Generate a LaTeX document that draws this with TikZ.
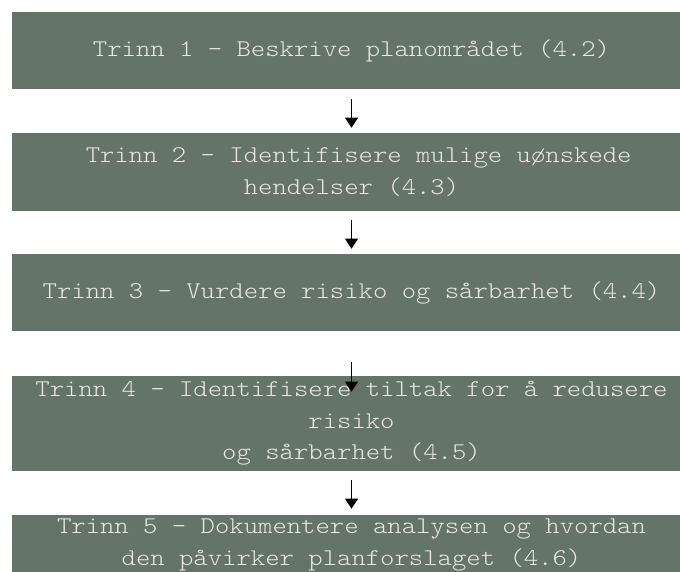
\documentclass[tikz,border=0pt]{standalone}
\usepackage{fontspec}
\newfontfamily\trinnfont[FakeStretch=1.14]{Latin Modern Mono Light}
\usetikzlibrary{arrows.meta,calc}
\definecolor{trinngreen}{RGB}{101,116,104}
\definecolor{trinntext}{RGB}{232,232,228}

\begin{document}
\begin{tikzpicture}[x=0.75pt,y=0.75pt,yscale=-1,xscale=1,
    trinnbox/.style={fill=trinngreen, text=trinntext, minimum width=510pt, inner sep=0pt, align=center, font=\trinnfont\fontsize{18}{23.6}\selectfont},
    flowarrow/.style={-{Triangle[width=9.5pt,length=7.5pt]}, line width=1.4pt, black}]

    \useasboundingbox (0,0) rectangle (680,571);

    % steps
    \node [trinnbox, minimum height=57.75pt] (trinn1) at (351.5,50.5) {Trinn 1 - Beskrive planområdet (4.2)};
    \node [trinnbox, minimum height=58.5pt] (trinn2) at (351.5,172) {~Trinn 2 - Identifisere mulige uønskede\\hendelser (4.3)};
    \node [trinnbox, minimum height=57.75pt] (trinn3) at (351.5,292.5) {Trinn 3 - Vurdere risiko og sårbarhet (4.4)};
    \node [trinnbox, minimum height=71.25pt] (trinn4) at (351.5,423.5) {Trinn 4 - Identifisere tiltak for å redusere\\risiko\\og sårbarhet (4.5)};
    \node [trinnbox, minimum height=45pt] (trinn5) at (351.5,545) {Trinn 5 - Dokumentere analysen og hvordan\\den påvirker planforslaget (4.6)};

    % arrows
    \draw [flowarrow] ($(trinn1.south)+(0,10)$) -- ($(trinn2.north)+(0,-5)$);
    \draw [flowarrow] ($(trinn2.south)+(0,9)$) -- ($(trinn3.north)+(0,-5)$);
    \draw [flowarrow] ($(trinn3.south)+(0,31)$) -- ($(trinn4.north)+(0,16)$);
    \draw [flowarrow] ($(trinn4.south)+(0,9)$) -- ($(trinn5.north)+(0,-6)$);

\end{tikzpicture}
\end{document}
